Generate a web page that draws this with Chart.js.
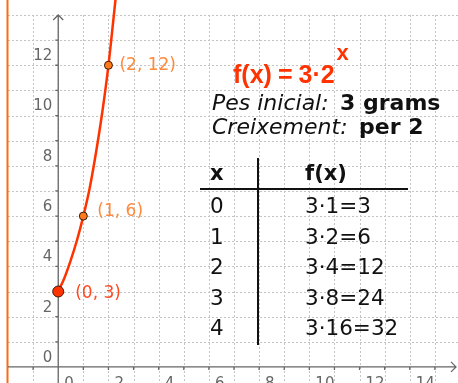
<!DOCTYPE html>
<html><head><meta charset="utf-8">
<style>html,body{margin:0;padding:0;background:#fff;overflow:hidden}canvas{display:block}</style>
<script src="https://cdn.jsdelivr.net/npm/chart.js@4"></script>
</head><body>
<canvas id="c" width="458" height="383"></canvas>
<script>
// ---- data ----
const curveX = [0, 0.25, 0.5, 0.75, 1, 1.25, 1.5, 1.75, 2, 2.29];
const curveY = [3, 3.55, 4.25, 5.05, 6, 7.1, 8.5, 10.1, 12, 14.7];
const pointX = [0, 1, 2];
const pointY = [3, 6, 12];
const pointLabels = ['(0, 3)', '(1, 6)', '(2, 12)'];
const xTickValues = [0, 2, 4, 6, 8, 10, 12, 14];
const xTickLabels = ['0', '2', '4', '6', '8', '10', '12', '14'];
const yTickValues = [0, 2, 4, 6, 8, 10, 12];
const yTickLabels = ['0', '2', '4', '6', '8', '10', '12'];
const formulaParts = ['f(x)', '=', '3·2'];
const formulaExp = 'x';
const infoLabels = ['Pes inicial:', 'Creixement:'];
const infoValues = ['3 grams', 'per 2'];
const tableHeaders = ['x', 'f(x)'];
const tableX = ['0', '1', '2', '3', '4'];
const tableFx = ['3·1=3', '3·2=6', '3·4=12', '3·8=24', '3·16=32'];

// ---- styles ----
const RED = '#ff3300';
const ORANGE = '#ff8a3d';
const pointFill = [RED, '#ff7a1a', '#ff7a1a'];
const pointRad = [5.5, 4, 4];
const labelColors = ['#ff4a22', ORANGE, ORANGE];
const labelOffsets = [[17, 2], [14, -5], [11, 0]];

const overlay = {
  id: 'overlay',
  beforeDatasetsDraw(chart) {
    const ctx = chart.ctx, xs = chart.scales.x, ys = chart.scales.y;
    const x0 = xs.getPixelForValue(0), y0 = ys.getPixelForValue(0);
    const left = xs.getPixelForValue(-2), top = ys.getPixelForValue(14);
    ctx.save();
    // dashed grid
    ctx.strokeStyle = '#c4c4c4'; ctx.lineWidth = 1; ctx.setLineDash([2, 2]);
    ctx.beginPath();
    for (let v = -1; v <= 15; v++) { const p = Math.round(xs.getPixelForValue(v)) + 0.5; ctx.moveTo(p, top); ctx.lineTo(p, chart.height); }
    for (let v = 1; v <= 14; v++) { const p = Math.round(ys.getPixelForValue(v)) + 0.5; ctx.moveTo(left, p); ctx.lineTo(chart.width, p); }
    ctx.stroke();
    ctx.setLineDash([]);
    // left orange line
    ctx.strokeStyle = '#ff6a10'; ctx.lineWidth = 2;
    ctx.beginPath(); ctx.moveTo(left - 0.5, 0); ctx.lineTo(left - 0.5, chart.height); ctx.stroke();
    // axes
    ctx.strokeStyle = '#666'; ctx.lineWidth = 1.3;
    ctx.beginPath();
    ctx.moveTo(left, y0); ctx.lineTo(chart.width - 2, y0);
    ctx.moveTo(x0, chart.height); ctx.lineTo(x0, top);
    // arrows
    ctx.moveTo(chart.width - 7, y0 - 5); ctx.lineTo(chart.width - 2, y0); ctx.lineTo(chart.width - 7, y0 + 5);
    ctx.moveTo(x0 - 5, top + 5); ctx.lineTo(x0, top); ctx.lineTo(x0 + 5, top + 5);
    // tick marks
    for (let v = -1; v <= 15; v++) { const p = xs.getPixelForValue(v); ctx.moveTo(p, y0); ctx.lineTo(p, y0 + 3); }
    for (let v = 1; v <= 13; v++) { const p = ys.getPixelForValue(v); ctx.moveTo(x0, p); ctx.lineTo(x0 - 3, p); }
    ctx.stroke();
    // tick labels
    ctx.fillStyle = '#666'; ctx.font = '15px "DejaVu Sans"';
    ctx.textAlign = 'right'; ctx.textBaseline = 'middle';
    yTickValues.forEach((v, i) => ctx.fillText(yTickLabels[i], x0 - 6, ys.getPixelForValue(v) - 9));
    ctx.textAlign = 'left'; ctx.textBaseline = 'top';
    xTickValues.forEach((v, i) => ctx.fillText(xTickLabels[i], xs.getPixelForValue(v) + 6, y0 + 10));
    ctx.restore();
  },
  afterDraw(chart) {
    const ctx = chart.ctx, xs = chart.scales.x, ys = chart.scales.y;
    ctx.save();
    // point labels
    ctx.font = '17px "DejaVu Sans"'; ctx.textAlign = 'left'; ctx.textBaseline = 'middle';
    pointX.forEach((v, i) => {
      ctx.fillStyle = labelColors[i];
      ctx.fillText(pointLabels[i], xs.getPixelForValue(v) + labelOffsets[i][0], ys.getPixelForValue(pointY[i]) + labelOffsets[i][1]);
    });
    // formula
    ctx.textBaseline = 'alphabetic';
    ctx.fillStyle = RED; ctx.font = 'bold 25px "Liberation Sans"';
    let fx = 233;
    formulaParts.forEach((p, i) => { ctx.fillText(p, fx, 83); fx += ctx.measureText(p).width + (i < 2 ? 6 : 0); });
    ctx.font = 'bold 22px "Liberation Sans"';
    ctx.fillText(formulaExp, fx + 2, 60);
    // info lines
    const infoY = [110, 134], valX = [340, 359];
    ctx.fillStyle = '#111';
    infoLabels.forEach((t, i) => {
      ctx.font = 'italic 22px "DejaVu Sans"'; ctx.fillText(t, 212, infoY[i]);
      ctx.font = 'bold 22px "DejaVu Sans"'; ctx.fillText(infoValues[i], valX[i], infoY[i]);
    });
    // table
    ctx.font = 'bold 21px "DejaVu Sans"';
    ctx.fillText(tableHeaders[0], 210, 180);
    ctx.fillText(tableHeaders[1], 305, 180);
    ctx.strokeStyle = '#111'; ctx.lineWidth = 2;
    ctx.beginPath(); ctx.moveTo(200, 189); ctx.lineTo(408, 189); ctx.moveTo(258, 158); ctx.lineTo(258, 345); ctx.stroke();
    ctx.font = '21.5px "DejaVu Sans"';
    const rowY = [213, 244, 274, 305, 335];
    tableX.forEach((t, i) => { ctx.fillText(t, 210, rowY[i]); ctx.fillText(tableFx[i], 305, rowY[i]); });
    ctx.restore();
  }
};

new Chart(document.getElementById('c'), {
  type: 'scatter',
  data: {
    datasets: [
      { data: pointX.map((x, i) => ({ x, y: pointY[i] })), pointRadius: pointRad, pointBackgroundColor: pointFill,
        pointBorderColor: '#3a1a10', pointBorderWidth: 1, showLine: false, clip: false, order: 0 },
      { data: curveX.map((x, i) => ({ x, y: curveY[i] })), showLine: true, borderColor: RED, borderWidth: 2.5,
        pointRadius: 0, cubicInterpolationMode: 'monotone', clip: false, order: 1 }
    ]
  },
  options: {
    responsive: false, animation: false, devicePixelRatio: 1,
    layout: { autoPadding: false, padding: { left: 8, top: 15, right: 0, bottom: 0 } },
    plugins: { legend: { display: false }, tooltip: { enabled: false } },
    scales: {
      x: { type: 'linear', display: false, min: -2, max: 15.92 },
      y: { type: 'linear', display: false, min: -0.64, max: 14 }
    }
  },
  plugins: [overlay]
});
</script>
</body></html>
